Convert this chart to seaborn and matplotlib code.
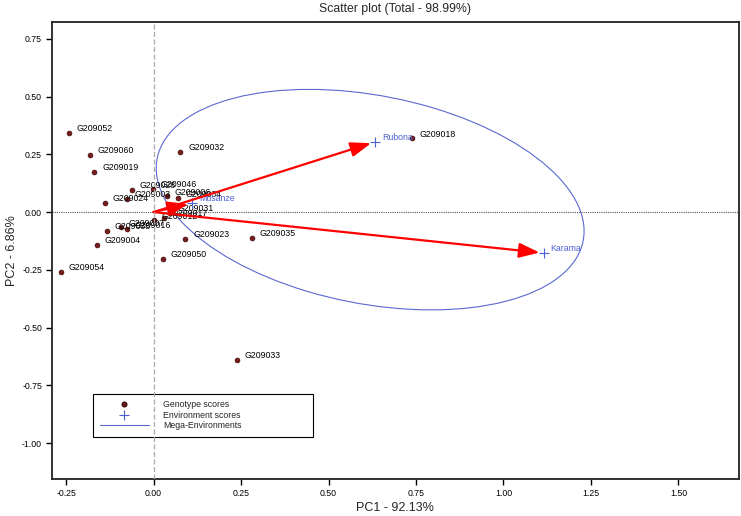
import numpy as np
import pandas as pd
import matplotlib
matplotlib.use("Agg")
import matplotlib.pyplot as plt
from matplotlib.patches import Ellipse, FancyArrowPatch
from matplotlib.lines import Line2D
import seaborn as sns

# ── data ──────────────────────────────────────────────────────────────────────
genotypes = ["G209052", "G209060", "G209019", "G209032", "G209028", "G209046",
             "G209003", "G209024", "G209006", "G209034", "G209012", "G209017",
             "G209031", "G209007", "G209038", "G209016", "G209004", "G209054",
             "G209023", "G209035", "G209050", "G209033", "G209018"]
geno_pc1 = [-0.243, -0.181, -0.169, 0.077, -0.062, -0.003,
            -0.077, -0.139, 0.038, 0.069, 0.002, 0.030,
            0.047, -0.093, -0.134, -0.077, -0.161, -0.264,
            0.091, 0.281, 0.028, 0.239, 0.739]
geno_pc2 = [0.342, 0.247, 0.174, 0.261, 0.095, 0.100,
            0.058, 0.040, 0.068, 0.059, -0.035, -0.026,
            -0.004, -0.066, -0.081, -0.074, -0.143, -0.258,
            -0.117, -0.111, -0.203, -0.641, 0.319]

environments = ["Rubona", "Karama", "Musanze"]
env_pc1 = [0.633, 1.115, 0.110]
env_pc2 = [0.304, -0.177, 0.039]

# mega-environment ellipse (centre, full width/height, angle in data units)
mega_center = (0.619, 0.054)
mega_width = 1.283
mega_height = 0.872
mega_angle = -24.4

x_ticks = [-0.25, 0.00, 0.25, 0.50, 0.75, 1.00, 1.25, 1.50]
y_ticks = [-1.00, -0.75, -0.50, -0.25, 0.00, 0.25, 0.50, 0.75]

title = "Scatter plot (Total - 98.99%)"
x_label = "PC1 - 92.13%"
y_label = "PC2 - 6.86%"

GENO_COLOR = "#7a1c1c"
ENV_COLOR = "#4d5fd4"
ARROW_COLOR = "#ff0000"

sns.set_theme(style="white")
plt.rcParams["font.family"] = ["Liberation Sans", "DejaVu Sans"]

geno_df = pd.DataFrame({"PC1": geno_pc1, "PC2": geno_pc2, "name": genotypes})
env_df = pd.DataFrame({"PC1": env_pc1, "PC2": env_pc2, "name": environments})

fig = plt.figure(figsize=(7.41, 5.16), dpi=100)
ax = fig.add_axes([0.0698, 0.0711, 0.9275, 0.8862])

# reference lines
ax.axhline(0, color="#555555", lw=0.8, ls=(0, (1, 1)), zorder=1)
ax.axvline(0, color="#aaaaaa", lw=0.9, ls=(0, (4, 2)), zorder=6)

# mega-environment ellipse
ax.add_patch(Ellipse(mega_center, mega_width, mega_height, angle=mega_angle,
                     fill=False, edgecolor="#5a68d0", lw=0.8, zorder=2))

# genotype scores
sns.scatterplot(data=geno_df, x="PC1", y="PC2", ax=ax, color=GENO_COLOR,
                edgecolor="#3a0808", linewidth=0.5, s=12, zorder=3, legend=False)
for _, r in geno_df.iterrows():
    ax.annotate(r["name"], (r["PC1"], r["PC2"]), xytext=(5.5, 3),
                textcoords="offset points", fontsize=6.3, va="center",
                color="black", zorder=3)

# environment scores
sns.scatterplot(data=env_df, x="PC1", y="PC2", ax=ax, color=ENV_COLOR,
                marker="+", s=60, linewidth=0.8, zorder=4, legend=False)
for _, r in env_df.iterrows():
    ax.annotate(r["name"], (r["PC1"], r["PC2"]), xytext=(5, 3),
                textcoords="offset points", fontsize=6.3, va="center",
                color=ENV_COLOR, zorder=4)

# environment vectors from the origin
for _, r in env_df.iterrows():
    ax.add_patch(FancyArrowPatch((0, 0), (r["PC1"], r["PC2"]),
                                 arrowstyle="-|>,head_length=1.25,head_width=0.45",
                                 mutation_scale=10, color=ARROW_COLOR, lw=1.6,
                                 shrinkA=0, shrinkB=3, zorder=5))

ax.set_xlim(-0.291, 1.673)
ax.set_ylim(-1.157, 0.823)
ax.set_xticks(x_ticks)
ax.set_yticks(y_ticks)
ax.set_xticklabels([f"{t:.2f}" for t in x_ticks])
ax.set_yticklabels([f"{t:.2f}" for t in y_ticks])
ax.tick_params(axis="both", direction="out", length=4, width=1, labelsize=6.3,
               colors="black", pad=3, bottom=True, left=True)
for s in ax.spines.values():
    s.set_color("#222222")
    s.set_linewidth(1.3)

ax.set_title(title, fontsize=8.8, pad=7)
ax.set_xlabel(x_label, fontsize=9, labelpad=3)
ax.set_ylabel(y_label, fontsize=9, labelpad=3)

handles = [
    Line2D([], [], ls="none", marker="o", markersize=3.3, color=GENO_COLOR,
           markeredgecolor="#3a0808"),
    Line2D([], [], ls="none", marker="+", markersize=7, color=ENV_COLOR,
           markeredgewidth=0.8),
    Line2D([], [], color="#5a68d0", lw=0.8),
]
leg = ax.legend(handles, ["Genotype scores", "Environment scores", "Mega-Environments"],
                loc="lower left", bbox_to_anchor=(0.0543, 0.0838, 0.332, 0.094),
                mode="expand", fontsize=6.3, handlelength=5.6, handletextpad=1.6,
                labelspacing=0.15, borderpad=0.75, fancybox=False, framealpha=1,
                edgecolor="black")
leg.get_frame().set_linewidth(0.8)
leg.set_zorder(5)

fig.savefig("out.png", dpi=100)
